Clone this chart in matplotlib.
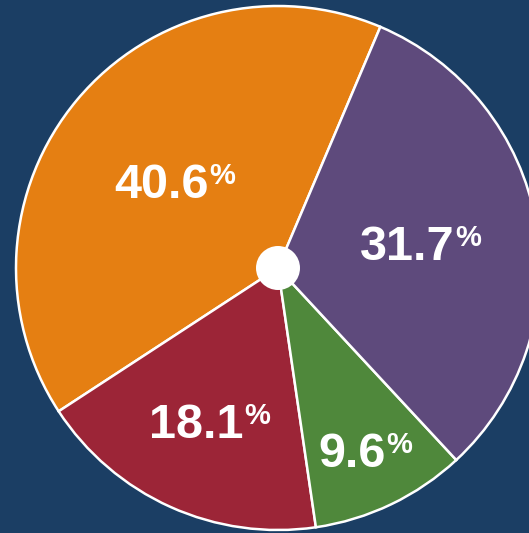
import numpy as np
import matplotlib
matplotlib.use("Agg")
import matplotlib.pyplot as plt
from matplotlib.patches import Circle

# Datos del gráfico (orden antihorario desde la parte superior)
categorias = ["Naranja", "Rojo", "Verde", "Morado"]
porcentajes = [40.6, 18.1, 9.6, 31.7]
colores = ["#e57f12", "#9c2537", "#4f883b", "#5e4a7c"]
etiquetas = ["40.6", "18.1", "9.6", "31.7"]

# Estilo
fondo = "#1b3e64"
centro = (278, 265)
radio = 262
radio_etiqueta = [0.517, 0.64, 0.77, 0.552]
tam_numero = 35
tam_signo = 21

plt.rcParams["font.family"] = ["Liberation Sans", "DejaVu Sans"]

fig = plt.figure(figsize=(5.29, 5.33), dpi=100)
fig.patch.set_facecolor(fondo)
ax = fig.add_axes([0, 0, 1, 1])
ax.set_facecolor(fondo)

cunas, _ = ax.pie(porcentajes, colors=colores, startangle=67, counterclock=True,
                  center=centro, radius=radio,
                  wedgeprops=dict(edgecolor="white", linewidth=1.8))

ax.set_xlim(0, 529)
ax.set_ylim(0, 533)
ax.set_aspect("equal")
ax.axis("off")

# Círculo blanco central
ax.add_patch(Circle(centro, 22, facecolor="white", edgecolor="none", zorder=5))

# Etiquetas de porcentaje con el signo % en superíndice
alto_cifra = 0.716 * tam_numero * 100 / 72  # altura de las cifras en píxeles
for cuna, etiqueta, fr in zip(cunas, etiquetas, radio_etiqueta):
    ang = np.deg2rad((cuna.theta1 + cuna.theta2) / 2)
    x = centro[0] + fr * radio * np.cos(ang) - 13
    y = centro[1] + fr * radio * np.sin(ang) - alto_cifra / 2
    t = ax.text(x, y, etiqueta, color="white", fontsize=tam_numero,
                fontweight="bold", ha="center", va="baseline", zorder=6)
    ax.annotate("%", xy=(1, 1), xycoords=t, xytext=(0.5, 1),
                textcoords="offset points", color="white", fontsize=tam_signo,
                fontweight="bold", ha="left", va="top", zorder=6)

fig.savefig("out.png", dpi=100, facecolor=fondo)
